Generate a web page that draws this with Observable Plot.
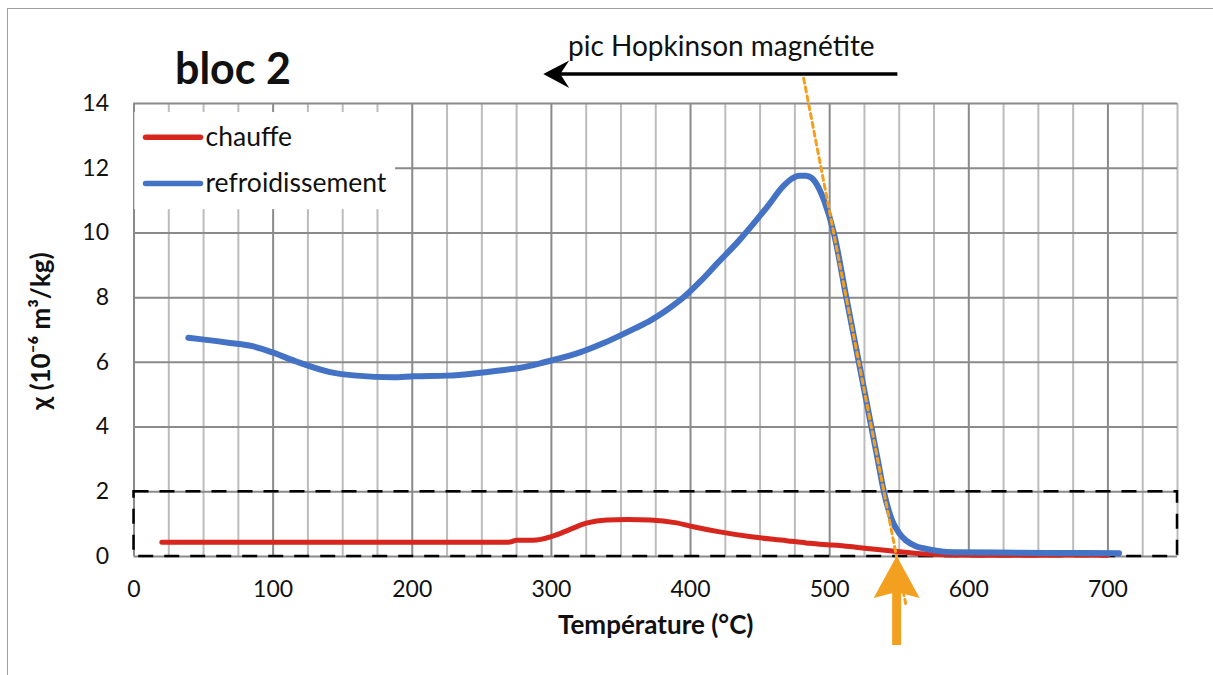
<!DOCTYPE html>
<html><head><meta charset="utf-8">
<script src="https://cdn.jsdelivr.net/npm/d3@7"></script>
<script src="https://cdn.jsdelivr.net/npm/@observablehq/plot@0.6"></script>
<style>
body{margin:0;background:#fff;}
#chart{position:relative;width:1213px;height:675px;overflow:hidden;background:#fff;}
#border{position:absolute;left:7px;top:8px;width:1210px;height:700px;border:1.5px solid #a0a0a0;pointer-events:none;}
</style>
</head><body>
<div id="chart"><div id="border"></div></div>
<script>
// ---- data ----
const chauffeT = [20,100,200,269,275,287,301,313,325,340,355,371,390,402,421,445,469,483,498,505,520,545,569,590,620,650,686,700];
const chauffeV = [0.44,0.44,0.44,0.44,0.5,0.5,0.63,0.83,1.03,1.13,1.14,1.13,1.04,0.92,0.76,0.6,0.49,0.42,0.36,0.35,0.28,0.17,0.08,0.05,0.04,0.04,0.05,0.04];

const refroidT = [39,49,69,85,100,117,141,160,186,201,225,249,263,273,292,301,320,335,347,360,371,383,395,407,419,435,455,467,473,478,483,487,492,496,503,512,521,530,534.5,539,545,550,555,562,569,578,589,620,660,708];
const refroidV = [6.76,6.71,6.6,6.5,6.3,6.02,5.7,5.59,5.54,5.57,5.59,5.68,5.75,5.8,5.97,6.07,6.3,6.55,6.78,7.05,7.29,7.62,8.01,8.5,9.05,9.77,10.8,11.46,11.68,11.77,11.77,11.7,11.4,11.0,10.0,8.0,6.0,4.0,3.0,2.0,1.1,0.72,0.49,0.32,0.24,0.17,0.13,0.12,0.11,0.1];

const xTicks = [0,100,200,300,400,500,600,700];
const yTicks = [0,2,4,6,8,10,12,14];
const xGrid = d3.range(0, 751, 25);
const seriesNames = ["chauffe","refroidissement"];
const seriesColors = ["#d7261e","#4472c4"];

// annotations (data units)
const hopkinsonText = "pic Hopkinson magnétite";
const hopArrow = {x1: 549, x2: 294.5, y: 14.9};
const tangent = [{x: 481.3, y: 14.78}, {x: 554.6, y: -1.45}];
const curiePoint = {x: 548.5, y: 0};
const zoomBox = {x1: 0, x2: 750, y1: 0, y2: 2};

const orange = "#f3a021";
const font = "Lato, 'Open Sans', sans-serif";

const chauffe = chauffeT.map((t,i)=>({t, v: chauffeV[i]}));
const refroid = refroidT.map((t,i)=>({t, v: refroidV[i]}));

const plot = Plot.plot({
  width: 1213, height: 675,
  marginLeft: 133.5, marginRight: 36, marginTop: 103, marginBottom: 119,
  x: {domain: [0, 750], axis: null},
  y: {domain: [0, 14], axis: null},
  style: {fontFamily: font, background: "transparent", color: "#111"},
  marks: [
    // grid
    Plot.ruleX(xGrid.filter(d => d % 100 !== 0), {stroke: "#bcbcbc", strokeWidth: 2}),
    Plot.ruleX(xGrid.filter(d => d % 100 === 0), {stroke: "#8a8a8a", strokeWidth: 2}),
    Plot.ruleY(yTicks, {stroke: "#8a8a8a", strokeWidth: 2}),
    // legend background
    Plot.rect([{x1: 0.6, x2: 188, y1: 10.72, y2: 13.72}], {x1: "x1", x2: "x2", y1: "y1", y2: "y2", fill: "#fff"}),
    // axes tick labels
    Plot.axisX(xTicks, {tickSize: 0, tickPadding: 24, fontSize: 23, label: null, fill: "#111"}),
    Plot.axisY(yTicks, {tickSize: 0, tickPadding: 25, fontSize: 23, label: null, fill: "#111"}),
    // dashed box
    Plot.rect([zoomBox], {x1: "x1", x2: "x2", y1: "y1", y2: "y2", fill: "none", stroke: "#000", strokeWidth: 2.5, strokeDasharray: "15,11"}),
    // curves
    Plot.line(chauffe, {x: "t", y: "v", stroke: seriesColors[0], strokeWidth: 5, curve: "monotone-x"}),
    Plot.line(refroid, {x: "t", y: "v", stroke: seriesColors[1], strokeWidth: 6, curve: "monotone-x"}),
    // tangent (dotted orange)
    Plot.line(tangent, {x: "x", y: "y", stroke: orange, strokeWidth: 3, strokeDasharray: "5,4"}),
    // legend
    Plot.link([{x1: 8.3, x2: 47.8, y: 12.96, c: 0}, {x1: 8.3, x2: 47.8, y: 11.53, c: 1}],
      {x1: "x1", x2: "x2", y1: "y", y2: "y", stroke: d => seriesColors[d.c], strokeWidth: 5.5, strokeLinecap: "round"}),
    Plot.text([{x: 51.4, y: 12.96, c: 0}, {x: 51.4, y: 11.53, c: 1}],
      {x: "x", y: "y", text: d => seriesNames[d.c], textAnchor: "start", fontSize: 26.5, fill: "#111"}),
    // title
    Plot.text(["bloc 2"], {frameAnchor: "top-left", dx: 41, dy: -50, text: d => d, textAnchor: "start", fontSize: 43, fontWeight: "bold", fill: "#111"}),
    // axis titles
    Plot.text(["Température (°C)"], {frameAnchor: "bottom", dy: 77, text: d => d, textAnchor: "middle", fontSize: 26, fontWeight: "bold", fill: "#111"}),
    Plot.text(["χ (10⁻⁶ m³/kg)"], {frameAnchor: "left", dx: -92, dy: 1, rotate: -90, text: d => d, textAnchor: "middle", fontSize: 26, fontWeight: "bold", fill: "#111"}),
    // annotation text
    Plot.text([hopkinsonText], {frameAnchor: "top-left", dx: 434, dy: -67, text: d => d, textAnchor: "start", fontSize: 28, fill: "#111"}),
    // arrows
    (index, scales) => {
      const x = scales.x, y = scales.y;
      const g = d3.create("svg:g");
      const xa = x(hopArrow.x1), xb = x(hopArrow.x2), ya = y(hopArrow.y);
      g.append("line").attr("x1", xa).attr("x2", xb + 16).attr("y1", ya).attr("y2", ya)
        .attr("stroke", "#000").attr("stroke-width", 3.5);
      g.append("path").attr("d", `M${xb},${ya} L${xb+26},${ya-13.5} L${xb+17},${ya} L${xb+26},${ya+14} Z`).attr("fill", "#000");
      const xo = x(curiePoint.x), yo = y(curiePoint.y);
      g.append("rect").attr("x", xo - 4.5).attr("y", yo + 34).attr("width", 9).attr("height", 55).attr("fill", orange);
      g.append("path").attr("d", `M${xo},${yo} L${xo+23},${yo+42} L${xo},${yo+36} L${xo-23},${yo+42} Z`).attr("fill", orange);
      return g.node();
    }
  ]
});
plot.style.position = "absolute";
plot.style.left = "0";
plot.style.top = "0";
document.getElementById("chart").appendChild(plot);
</script>
</body></html>
